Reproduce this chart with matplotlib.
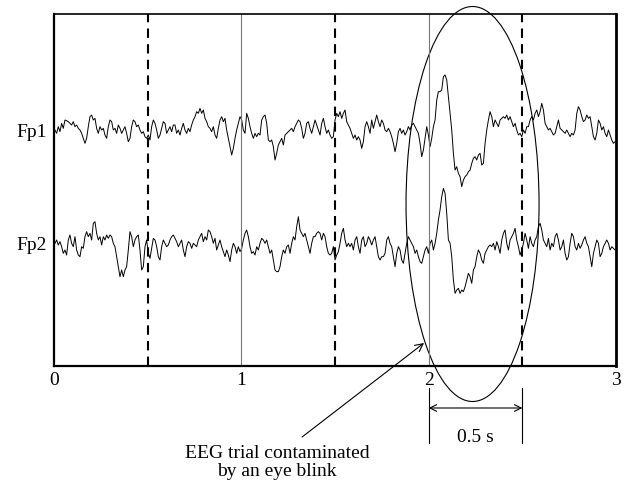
import matplotlib

matplotlib.use("Agg")
import matplotlib.pyplot as plt
import numpy as np
from matplotlib.patches import Ellipse

# EEG amplitudes (arbitrary units, relative to each channel's baseline),
# read off the figure at uniform sample spacing from t=0.005 s to t=2.995 s
FP1 = [
    0, -10, 10, -5, 20, 5, 30, 28, 25, 20, 15, 25, 10, 15, 5, 0, -10, -25, -40, -25,
    10, 40, 45, 30, 35, 5, -10, 10, 0, 5, -15, -25, 10, 30, 25, 0, 5, -10, 15, 5,
    -10, 0, 10, -10, -35, -25, 10, 30, 25, 10, 15, 0, -10, -5, -20, -25, -15, -30, 10, 30,
    20, 0, -25, -15, 5, 25, 20, -10, 0, 10, -5, 15, 15, -10, 0, -15, 5, 20, 0, -10,
    5, -5, 15, 30, 40, 55, 50, 65, 50, 60, 35, 25, 10, 5, -5, 10, -15, -25, 5, 30,
    40, 25, 35, 0, -25, -50, -75, -55, -25, 0, 20, 40, 30, 0, -10,
    50, 35, 10, -10, -25, -10, -20, -10, -15, 30, 40, 45, 20, -30, -35, -30, -50, -90, -70, -45,
    -35, -25, -45, -15, -10, -5, 0, 5, -5, 10, 20, 30, 25, 5, -25, -10, 20, 25, 5, -10,
    10, 30, 15, 0, -15, 20, 35, 10, -10, 0, -15, -25, -20, 30, 50, 40, 55, 35, 50, 60,
    25, 15, 5, -10, -25, -15, -30, -20, -30, -55, -35, 10, 25, 10, -10, 30, 5, 25, 45, 25,
    10, 30, 20, 0, -5, 5, -5, -20, -40, -65, -40, -5, 5, -10, 0, -15, -5, 10, 0, 15,
    20, 10, 0, -10, -40, -80, -60, -25, 10, -15, -50, -25,
    10, 30, 90, 115, 115, 120, 160, 165, 150, 100, 50, 0, -70, -120, -110, -130, -140, -170, -150, -140,
    -135, -125, -120, -100, -85, -80, -90, -75, -70, -105, -100, -40, 0, 30, 55, 40, 10, 30, 20, 10,
    30, 35, 40, 35, 45, 30, 40, 25, 10, 20, 0, -15, -10, -20, 0, -10, 10, 10, 30, 40,
    30, 50, 60, 40, 55, 80, 60, 20, 10, 0, 5, -5, -15, -10, 10, 30, 5, 0, -5, -10,
    0, -10, -20, -10, -15, 0, 50, 70, 60, 40, 25, 30, 45, 35, 40, 10, -20, -30, -10, 30,
    20, 0, 10, -10, -20, 0, -15, -30, -40, -35,
]
FP2 = [
    0, 10, -5, 5, -10, -30, -20, -35, 10, 25, 0, -10, 20, -20, -35, -40, -10, -15, 20, 35,
    20, 30, 10, 60, 65, 30, 10, 20, -5, 20, 10, 25, 15, 25, 20, 0, -10, -40, -70, -100,
    -80, -100, -80, -70, -20, 35, 20, -10, 10, 20, 25, -20, -80, -70, -10, 10, -30, -45, -15, 15,
    10, -10, -40, -50, -10, 10, 0, -10, -5, 10, 20, 25, 15, 5, -10, 0, 10, -20, -40, -10,
    5, 0, -15, 0, -5, -10, 10, 20, 30, 5, 20, 10, 40, 35, 20, 0, 15, -20, -5, 10,
    -10, -25, -40, -20, -35, -55, -20, 0, -10, -30, -10, -25, -15, 10, 30,
    40, 20, -10, -30, -25, -35, -10, -20, 0, 15, 10, 0, 10, -10, -30, -20, -50, -80, -85, -85,
    -70, -40, -20, -30, -10, -5, -30, 0, 20, 10, 50, 80, 40, 30, 20, 30, 10, -10, -30, 0,
    20, 20, 30, 35, 30, 10, 30, 20, -10, -30, -35, -30, -10, -50, -35, -25, 0, 30, 45, 10,
    -10, 0, -10, 0, -20, 10, 20, -10, -30, 10, 20, -10, 0, 20, 10, -5, 10, 20, -10, -40,
    -50, -40, -40, -30, 10, 20, 0, -10, -40, -70, -30, -10, -20, -50, -60, -30, 0, 20, 10, 0,
    -10, -30, -20, -40, -55, -60, -40, -20, -10, -30, 0, 10,
    -20, 0, 30, 70, 100, 140, 165, 150, 90, 10, 0, -40, -110, -150, -140, -135, -150, -140, -145, -130,
    -110, -90, -100, -120, -80, -70, -40, -20, -30, -50, -60, -30, -20, -10, -5, -10, 0, -20, 5, -10,
    -30, 10, 30, 40, 0, -20, 10, 20, 30, 45, 10, -10, -35, -20, 0, 30, 10, -15, 20, 0,
    -10, 10, 20, 50, 60, 40, 10, 0, -10, 15, -20, 0, -10, 20, 30, 10, -20, -10, 10, -30,
    -50, -40, 0, 30, 20, -10, -20, 0, -15, -5, 10, 20, 0, -10, -40, -70, -30, -10, 10, 0,
    -40, -30, -10, 0, 10, 0, -20, -10, -15, -20,
]
CHANNELS = ["Fp1", "Fp2"]
OFFSETS = [708, 368]  # channel baselines on the vertical scale
T_START, T_END = 0.005, 2.995
DASHED_T = [0.5, 1.5, 2.5]
SOLID_T = [1, 2]
XTICKS = [0, 1, 2, 3]

SERIF = "Liberation Serif"

fig = plt.figure(figsize=(6.26, 4.88), dpi=100)
ax = fig.add_axes([0.0863, 0.25, 0.8978, 0.7213])
ax.set_xlim(0, 3)
ax.set_ylim(0, 1056)

for amp, off in zip([FP1, FP2], OFFSETS):
    t = np.linspace(T_START, T_END, len(amp))
    ax.plot(t, off + np.asarray(amp), color="black", lw=0.7)

for x in DASHED_T:
    ax.axvline(x, color="black", lw=1.5, ls=(0, (4.5, 3)))
for x in SOLID_T:
    ax.axvline(x, color="#777777", lw=0.8)

ax.set_xticks(XTICKS)
ax.set_xticklabels([str(v) for v in XTICKS], fontfamily=SERIF, fontsize=14)
ax.set_yticks(OFFSETS)
ax.set_yticklabels(CHANNELS, fontfamily=SERIF, fontsize=14)
ax.tick_params(length=0, pad=4)
ax.tick_params(axis="y", pad=5)
for side, lw in (("left", 1.6), ("right", 2.0), ("top", 1.2), ("bottom", 1.6)):
    ax.spines[side].set_linewidth(lw)

# eye-blink ellipse
ax.add_patch(Ellipse((2.234, 486), width=0.71, height=1185, fill=False,
                     lw=0.8, color="black", clip_on=False))

# 0.5 s dimension marker
for x in (2, 2.5):
    ax.plot([x, x], [-66, -231], color="black", lw=0.8, clip_on=False)
ax.annotate("", xy=(2.5, -126), xytext=(2, -126), annotation_clip=False,
            arrowprops=dict(arrowstyle="<->", color="black", lw=0.8,
                            shrinkA=0, shrinkB=0, mutation_scale=12))
ax.text(2.25, -216, "0.5 s", ha="center", va="center", fontfamily=SERIF,
        fontsize=14, clip_on=False)

# annotation
ax.annotate("", xy=(1.975, 69), xytext=(1.324, -213), annotation_clip=False,
            arrowprops=dict(arrowstyle="->", color="black", lw=0.8,
                            shrinkA=0, shrinkB=0, mutation_scale=14))
ax.text(1.19, -237, "EEG trial contaminated\nby an eye blink", ha="center",
        va="top", fontfamily=SERIF, fontsize=14, linespacing=1.05, clip_on=False)

fig.savefig("out.png", dpi=100)
